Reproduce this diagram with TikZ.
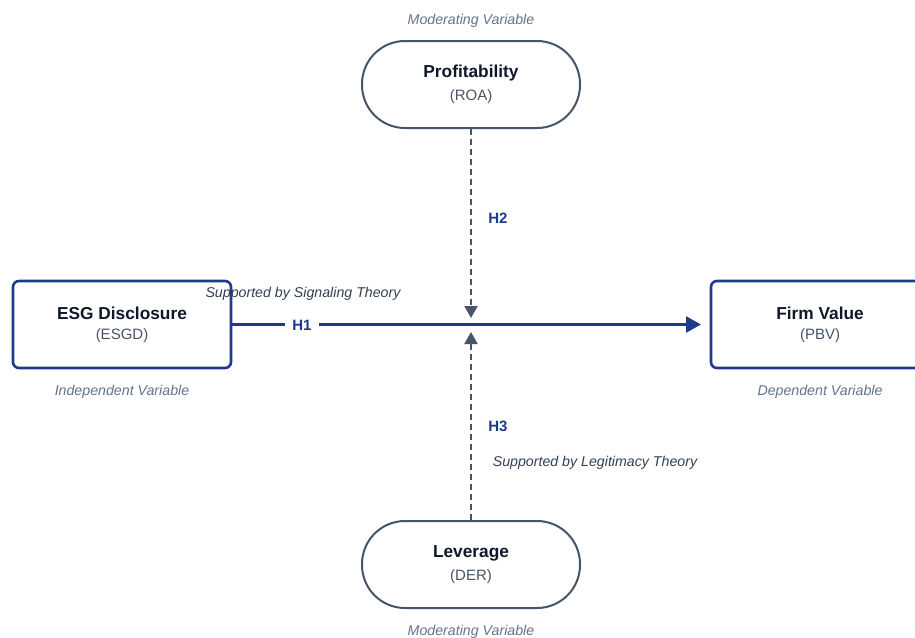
\documentclass[tikz,border=0pt]{standalone}
\usepackage{fontspec}
\setmainfont{Liberation Sans}
\usetikzlibrary{arrows.meta}
\definecolor{navy}{HTML}{1E3A8A}
\definecolor{slate}{HTML}{475569}
\definecolor{slatelt}{HTML}{64748B}
\definecolor{slatedk}{HTML}{334155}
\definecolor{ink}{HTML}{0F172A}
\tikzset{
  stadium/.style={draw=slate, line width=2pt, rounded corners=43pt, minimum width=218pt, minimum height=87pt, fill=white, align=center, inner sep=0pt},
  varbox/.style={draw=navy, line width=2.6pt, rounded corners=6pt, minimum width=218pt, minimum height=87pt, fill=white, align=center, inner sep=0pt},
  cat/.style={font=\fontsize{14.2}{16}\selectfont\itshape, text=slatelt},
  theory/.style={font=\fontsize{14.2}{16}\selectfont\itshape, text=slatedk},
  hyp/.style={font=\fontsize{15}{17}\selectfont\bfseries, text=navy},
  dashline/.style={draw=slate, line width=2pt, dash pattern=on 6pt off 4pt, -{Triangle[width=13pt,length=12pt]}},
  mainline/.style={draw=navy, line width=2.6pt, -{Triangle[width=16pt,length=15pt]}}
}
\newcommand{\boxtext}[2]{{\fontsize{17.3}{20}\selectfont\bfseries\color{ink}#1}\\[8pt]{\fontsize{15}{17}\selectfont\color{slate}#2}}
\begin{document}
\begin{tikzpicture}[x=1pt,y=-1pt]
\useasboundingbox (0,0) rectangle (915,637);
\clip (0,0) rectangle (915,637);
\fill[white] (0,0) rectangle (915,637);
\node[stadium] (roa) at (471,84.5) {\boxtext{Profitability}{(ROA)}};
\node[stadium] (der) at (471,564.5) {\boxtext{Leverage}{(DER)}};
\node[varbox] (esg) at (122,324.5) {\boxtext{ESG Disclosure}{(ESGD)}};
\node[varbox] (pbv) at (820,324.5) {\boxtext{Firm Value}{(PBV)}};
\node[cat] (roacat) at (471,21) {Moderating Variable};
\node[cat] (dercat) at (471,632) {Moderating Variable};
\node[cat] (esgcat) at (122,392) {Independent Variable};
\node[cat] (pbvcat) at (820,392) {Dependent Variable};
\coordinate (top) at (471,318);
\coordinate (bot) at (471,332);
\coordinate (tip) at (701,324.5);
\draw[mainline] (esg.east) -- (tip);
\node[hyp, fill=white, inner xsep=7pt] (h1) at (302,325) {H1};
\draw[dashline] (roa.south) -- (top);
\draw[dashline] (der.north) -- (bot);
\node[hyp] (h2) at (498,218) {H2};
\node[hyp] (h3) at (498,426) {H3};
\node[theory] (sig) at (303,294) {Supported by Signaling Theory};
\node[theory] (leg) at (595,463) {Supported by Legitimacy Theory};
\end{tikzpicture}
\end{document}
